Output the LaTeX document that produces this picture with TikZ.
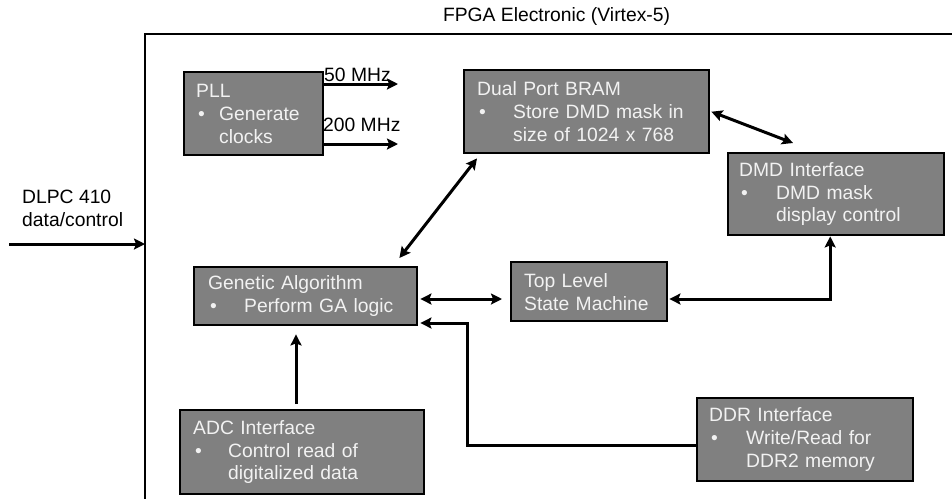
\documentclass[tikz,border=0pt]{standalone}
\usepackage{fontspec}
\setmainfont{Liberation Sans}
\usetikzlibrary{arrows.meta,calc}
\definecolor{boxgray}{RGB}{128,128,128}
\definecolor{boxtext}{RGB}{242,242,242}
\newcommand\boxfont{\fontsize{19.3pt}{22.8pt}\selectfont}
\newcommand\bulx[1]{\makebox[#1][l]{\hspace{2pt}\textbullet}}
\begin{document}
\begin{tikzpicture}[x=1pt,y=-1pt,
  blk/.style={draw=black, line width=2.4pt, fill=boxgray, text=boxtext,
    anchor=north west, align=left, inner xsep=13pt, inner ysep=0pt, font=\boxfont},
  lbl/.style={font=\boxfont, inner sep=0pt, text=black},
  tip/.tip={Stealth[length=11pt,width=11pt,inset=2pt]},
  arr/.style={line width=3pt, -tip},
  darr/.style={line width=3pt, tip-tip}]
\useasboundingbox (0,0) rectangle (952,499);
% frame
\coordinate (ftr) at (952,34);
\coordinate (fbl) at (145,499);
\draw[line width=2.4pt] (ftr) -| (fbl);
\node[lbl, anchor=base] (title) at (556.5,21) {FPGA Electronic (Virtex-5)};
% boxes
\node[blk, inner xsep=12pt, text width=115pt, minimum height=83pt] (pll) at (183,71)
  {PLL\\\bulx{23pt}Generate\\\hspace*{23pt}clocks};
\node[blk, text width=219pt, minimum height=83pt] (bram) at (463,69)
  {Dual Port BRAM\\\bulx{36pt}Store DMD mask in\\\hspace*{36pt}size of 1024 x 768};
\node[blk, inner xsep=11pt, text width=194pt, minimum height=82pt] (dmd) at (727,152)
  {DMD Interface\\\bulx{37pt}DMD mask\\\hspace*{37pt}display control};
\node[blk, text width=130pt, minimum height=59pt] (top) at (510,261)
  {Top Level\\State Machine};
\node[blk, inner xsep=14pt, text width=195pt, minimum height=58pt] (ga) at (193,266)
  {Genetic Algorithm\\\bulx{36pt}Perform GA logic};
\node[blk, text width=218pt, minimum height=84pt] (adc) at (179,409)
  {ADC Interface\\\bulx{35pt}Control read of\\\hspace*{35pt}digitalized data};
\node[blk, inner xsep=12pt, text width=192pt, minimum height=83pt] (ddr) at (696,397)
  {DDR Interface\\\bulx{37pt}Write/Read for\\\hspace*{37pt}DDR2 memory};
% labels
\node[lbl, anchor=base west] (f50) at (324,81) {50 MHz};
\node[lbl, anchor=base west] (f200) at (323,131) {200 MHz};
\node[lbl, anchor=north west, align=left] (dlpc) at (22,190) {DLPC 410\\data/control};
% connectors
\coordinate (c50) at (398,84);
\coordinate (c200) at (398,144);
\draw[arr] (pll.east |- c50) -- (c50);
\draw[arr] (pll.east |- c200) -- (c200);
\coordinate (din) at (9,244);
\draw[arr] (din) -- (din -| fbl);
\draw[darr] ([shift={(14,4)}]bram.south west) -- ([shift={(-19,-8)}]ga.north east);
\draw[darr] ([xshift=1pt]bram.east) -- ([shift={(66,-9)}]dmd.north west);
\coordinate (gt) at (0,299);
\draw[darr] ([xshift=2pt]ga.east |- gt) -- ([xshift=-8pt]top.west |- gt);
\draw[darr] ([xshift=-6pt]dmd.south) |- ([xshift=1pt]top.east |- gt);
\coordinate (ax) at (296,0);
\draw[arr] ([yshift=5pt]adc.north -| ax) -- ([yshift=-8pt]ga.south -| ax);
\coordinate (dd) at (467,445);
\coordinate (dk) at (467,323);
\draw[arr] (ddr.west |- dd) -| (dk) -- ([xshift=2pt]ga.east |- dk);
\end{tikzpicture}
\end{document}
